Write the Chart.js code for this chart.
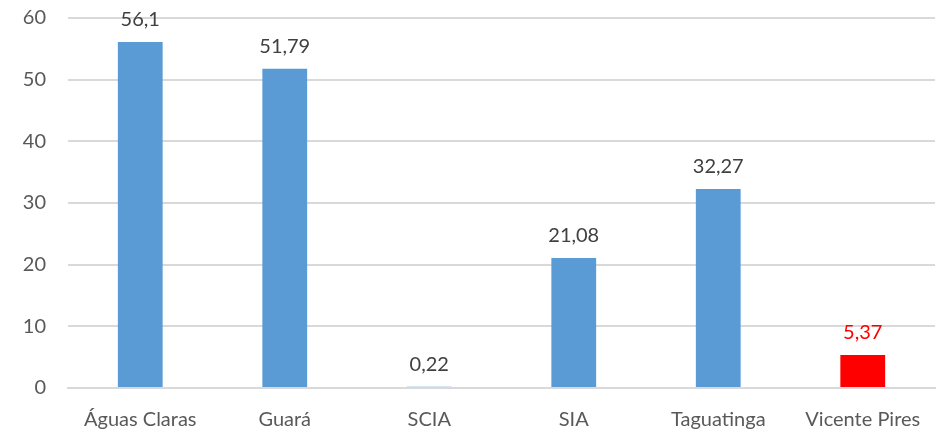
<!DOCTYPE html>
<html>
<head>
<meta charset="utf-8">
<script src="https://cdn.jsdelivr.net/npm/chart.js@4.4.0/dist/chart.umd.min.js"></script>
<style>
  html, body { margin: 0; padding: 0; background: #fff; }
  #wrap { width: 937px; height: 434px; }
</style>
</head>
<body>
<div id="wrap"><canvas id="chart"></canvas></div>
<script>
// Regions and their values
const regions = ['Águas Claras', 'Guará', 'SCIA', 'SIA', 'Taguatinga', 'Vicente Pires'];
const values = [56.1, 51.79, 0.22, 21.08, 32.27, 5.37];
const highlight = 'Vicente Pires';

const blue = '#5b9bd5';
const red = '#ff0000';
const barColors = regions.map(r => r === highlight ? red : blue);
const labelColors = regions.map(r => r === highlight ? red : '#404040');

const fontFamily = "Lato, 'Open Sans', sans-serif";

// value labels above each bar, comma decimal
const valueLabels = {
    id: 'valueLabels',
    afterDatasetsDraw(chart) {
        const ctx = chart.ctx;
        const meta = chart.getDatasetMeta(0);
        ctx.save();
        ctx.font = '20px ' + fontFamily;
        ctx.textAlign = 'center';
        ctx.textBaseline = 'alphabetic';
        meta.data.forEach((bar, i) => {
            ctx.fillStyle = labelColors[i];
            ctx.fillText(String(values[i]).replace('.', ','), bar.x, bar.y - 16);
        });
        ctx.restore();
    }
};

new Chart(document.getElementById('chart'), {
    type: 'bar',
    data: {
        labels: regions,
        datasets: [{
            data: values,
            backgroundColor: barColors,
            categoryPercentage: 1,
            barPercentage: 0.31
        }]
    },
    options: {
        responsive: true,
        maintainAspectRatio: false,
        animation: false,
        layout: { padding: { top: 18, right: 2, left: 0, bottom: 0 } },
        plugins: { legend: { display: false }, tooltip: { enabled: false } },
        scales: {
            x: {
                afterFit(scale) { scale.height = 46; },
                grid: { display: false },
                border: { color: '#d9d9d9', width: 2 },
                ticks: { color: '#595959', font: { family: fontFamily, size: 20 }, padding: 12 }
            },
            y: {
                min: 0,
                max: 60,
                afterFit(scale) { scale.width = 68; scale.paddingTop = 0; scale.paddingBottom = 0; },
                grid: { color: '#d9d9d9', lineWidth: 2, drawTicks: false },
                border: { display: false },
                ticks: { stepSize: 10, color: '#595959', font: { family: fontFamily, size: 20 }, padding: 22 }
            }
        }
    },
    plugins: [valueLabels]
});
</script>
</body>
</html>
